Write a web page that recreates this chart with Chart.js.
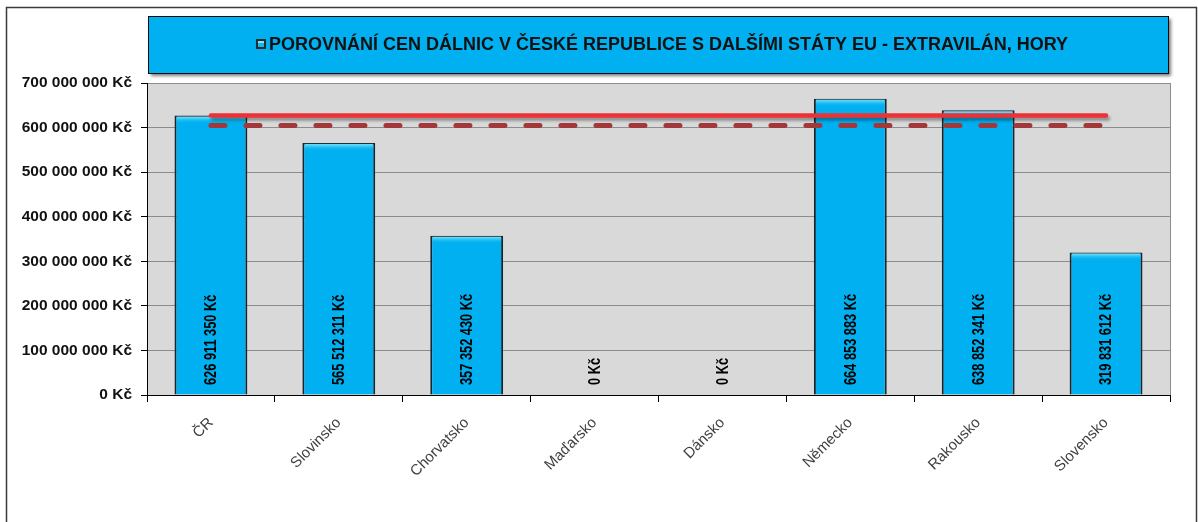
<!DOCTYPE html>
<html>
<head>
<meta charset="utf-8">
<script src="https://cdn.jsdelivr.net/npm/chart.js@4/dist/chart.umd.min.js"></script>
<style>
  body { margin: 0; background: #fff; }
  #wrap { width: 1198px; height: 522px; position: relative; }
</style>
</head>
<body>
<div id="wrap"><canvas id="myChart" width="1198" height="522"></canvas></div>
<script>
// data
const countries = ["ČR", "Slovinsko", "Chorvatsko", "Maďarsko", "Dánsko", "Německo", "Rakousko", "Slovensko"];
const prices = [626911350, 565512311, 357352430, 0, 0, 664853883, 638852341, 319831612];
const crLevel = [627000000, 627000000, 627000000, 627000000, 627000000, 627000000, 627000000, 627000000];
const avgLevel = [604500000, 604500000, 604500000, 604500000, 604500000, 604500000, 604500000, 604500000];
const titleText = "POROVNÁNÍ CEN DÁLNIC V ČESKÉ REPUBLICE S DALŠÍMI STÁTY EU - EXTRAVILÁN, HORY";

function kc(v) {
  return String(v).replace(/\B(?=(\d{3})+(?!\d))/g, " ") + " Kč";
}

// background, frame, title box, bar highlights, value labels
const framePlugin = {
  id: "frame",
  beforeDraw(chart) {
    const c = chart.ctx, a = chart.chartArea;
    c.save();
    c.fillStyle = "#fff";
    c.fillRect(0, 0, chart.width, chart.height);
    c.strokeStyle = "#3a3a3a";
    c.lineWidth = 1.5;
    c.strokeRect(6.5, 7.5, 1190, 530);
    // plot background
    c.fillStyle = "#d9d9d9";
    c.fillRect(a.left, a.top, a.right - a.left, a.bottom - a.top);
    c.strokeStyle = "#8c8c8c";
    c.lineWidth = 1;
    c.strokeRect(a.left + 0.5, a.top + 0.5, a.right - a.left, a.bottom - a.top);
    // title box with shadow
    c.shadowColor = "rgba(0,0,0,0.5)";
    c.shadowOffsetX = 3;
    c.shadowOffsetY = 3;
    c.shadowBlur = 3;
    c.fillStyle = "#00b0f0";
    c.fillRect(148, 16, 1020, 57);
    c.shadowColor = "transparent";
    c.strokeStyle = "#0a0a0a";
    c.lineWidth = 1;
    c.strokeRect(148.5, 16.5, 1020, 57);
    c.font = "bold 18px 'Liberation Sans', Arial, sans-serif";
    c.textBaseline = "middle";
    const tw = c.measureText(titleText).width;
    const x0 = 662 - (tw + 13) / 2;
    c.fillStyle = "#2a2a2a";
    c.fillRect(x0, 39, 10, 10);
    c.fillStyle = "#12b8f2";
    c.fillRect(x0 + 2, 41, 6, 6);
    c.fillStyle = "#7fe4ff";
    c.fillRect(x0 + 2, 41, 6, 2);
    c.fillStyle = "#111";
    c.textAlign = "left";
    c.fillText(titleText, x0 + 13, 45);
    c.restore();
  },
  beforeDatasetDraw(chart, args) {
    if (args.index === 0) {
      const c = chart.ctx;
      c.save();
      c.shadowColor = "rgba(0,0,0,0.35)";
      c.shadowOffsetX = 2;
      c.shadowOffsetY = 3;
      c.shadowBlur = 3;
    }
  },
  afterDatasetDraw(chart, args) {
    const c = chart.ctx;
    if (args.index === 0) c.restore();
    if (args.index === 2) {
      // light strip at top of each bar
      const meta = chart.getDatasetMeta(2);
      meta.data.forEach((bar) => {
        const h = bar.base - bar.y;
        if (h < 8) return;
        const w = bar.width - 4;
        const g = c.createLinearGradient(0, bar.y + 1, 0, bar.y + 8);
        g.addColorStop(0, "#7ae6ff");
        g.addColorStop(1, "rgba(0,176,240,0)");
        c.save();
        c.fillStyle = g;
        c.fillRect(bar.x - w / 2, bar.y + 1, w, 7);
        c.restore();
      });
    }
  },
  afterDatasetsDraw(chart) {
    // vertical value labels inside bars (condensed look)
    const c = chart.ctx;
    const meta = chart.getDatasetMeta(2);
    const yb = chart.scales.y.getPixelForValue(0);
    c.save();
    c.font = "bold 16px 'Liberation Sans', Arial, sans-serif";
    c.fillStyle = "#000";
    c.textBaseline = "middle";
    c.textAlign = "left";
    meta.data.forEach((bar, i) => {
      c.save();
      c.translate(bar.x + 1, yb - 10);
      c.rotate(-Math.PI / 2);
      c.scale(0.8, 1);
      c.fillText(kc(prices[i]), 0, 0);
      c.restore();
    });
    c.restore();
  }
};

const ctx = document.getElementById("myChart").getContext("2d");

const myChart = new Chart(ctx, {
  type: "bar",
  data: {
    labels: countries,
    datasets: [{
      type: "line",
      data: crLevel,
      borderColor: "#ec3237",
      borderWidth: 4.5,
      borderCapStyle: "round",
      pointRadius: 0,
      fill: false,
      order: 0
    }, {
      type: "line",
      data: avgLevel,
      borderColor: "#a3383b",
      borderWidth: 5,
      borderDash: [14, 21],
      borderCapStyle: "round",
      pointRadius: 0,
      fill: false,
      order: 1
    }, {
      data: prices,
      backgroundColor: "#00b0f0",
      borderColor: "#16262e",
      borderWidth: 2,
      borderSkipped: "bottom",
      barPercentage: 0.57,
      categoryPercentage: 1,
      order: 2
    }]
  },
  options: {
    responsive: false,
    animation: false,
    events: [],
    layout: { padding: { top: 83, right: 28, left: 0, bottom: 0 } },
    plugins: { legend: { display: false }, tooltip: { enabled: false } },
    scales: {
      x: {
        grid: { offset: true, drawOnChartArea: false, drawTicks: true, tickLength: 7, tickColor: "#000" },
        border: { color: "#000", width: 1 },
        ticks: {
          minRotation: 45, maxRotation: 45, padding: 12,
          color: "#404040",
          font: { family: "'Liberation Sans', Arial, sans-serif", size: 15 }
        },
        afterFit: (s) => { s.height = 127; }
      },
      y: {
        min: 0, max: 700000000,
        grid: { color: "#8c8c8c", tickLength: 6, tickColor: "#000" },
        border: { color: "#000", width: 1 },
        ticks: {
          stepSize: 100000000, padding: 9,
          color: "#111",
          font: { family: "'Liberation Sans', Arial, sans-serif", size: 15.5, weight: "bold" },
          callback: (v) => kc(v)
        },
        afterFit: (s) => { s.width = 147; }
      }
    }
  },
  plugins: [framePlugin]
});
</script>
</body>
</html>
